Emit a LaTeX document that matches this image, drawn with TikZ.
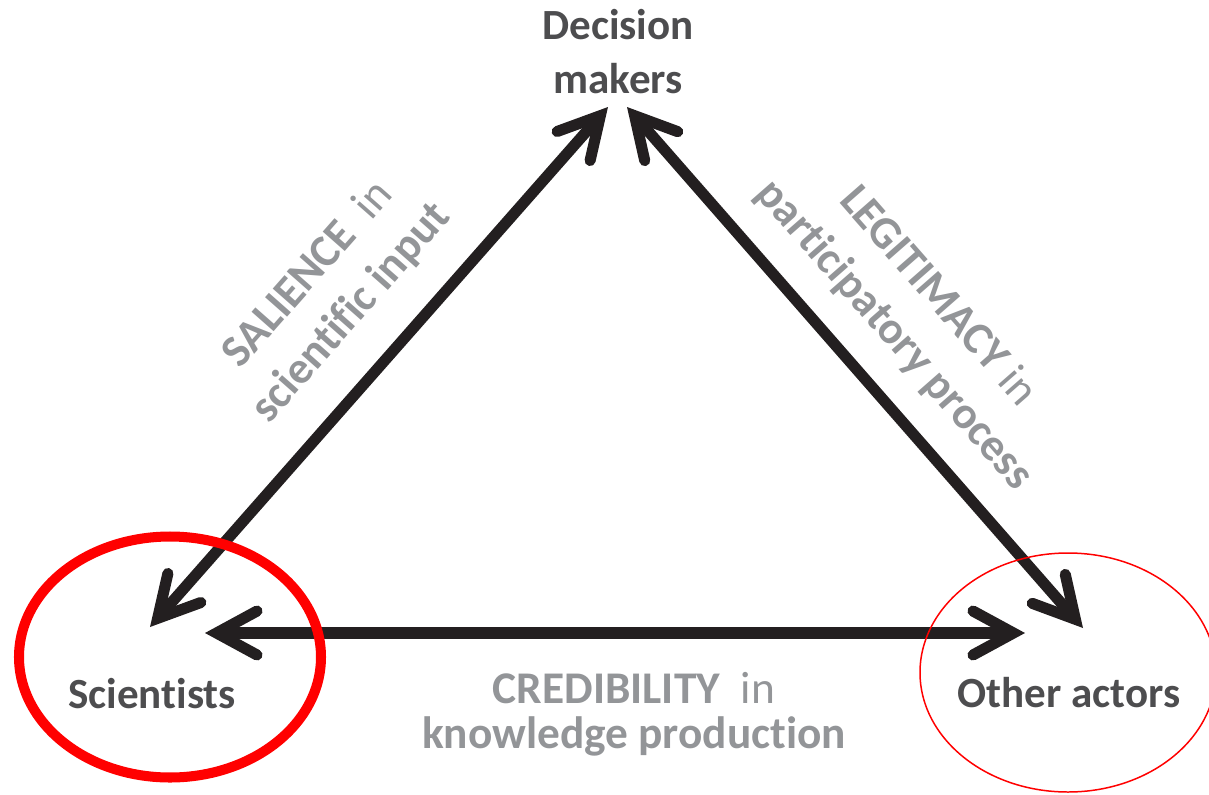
\documentclass[tikz,border=0pt]{standalone}
\usepackage{fontspec}
\setmainfont{Carlito}[Ligatures=NoCommon]
\usetikzlibrary{arrows.meta}
\definecolor{labelgray}{HTML}{4D4D4F}
\definecolor{notegray}{HTML}{939598}
\definecolor{arrowblack}{HTML}{231F20}

\begin{document}
\begin{tikzpicture}[
        actor/.style={font=\fontsize{24.5}{30.2}\selectfont\bfseries, text=labelgray, align=center, inner sep=0pt},
        note/.style={font=\fontsize{25.8}{33}\selectfont, text=notegray, align=center, inner sep=0pt},
        link/.style={<->, line width=6.3pt, draw=arrowblack,
            >={Straight Barb[length=23pt, width=25pt, line cap=round, line join=miter]}},
        mark ring/.style={draw=red}
    ]
        \useasboundingbox (0,0) rectangle (24.18,-15.9);
        \clip (0,0) rectangle (24.18,-15.9);

        % the three actors (base = last line)
        \node[actor, anchor=base] (dm)  at (12.36,-1.86) {Decision\\makers};
        \node[actor, anchor=base] (sci) at ( 3.04,-14.16) {Scientists};
        \node[actor, anchor=base] (oth) at (21.38,-14.14) {Other actors};

        % arrow ends
        \coordinate (dmL)  at (12.16,-2.14);
        \coordinate (dmR)  at (12.54,-2.14);
        \coordinate (sciT) at ( 3.00,-12.54);
        \coordinate (sciR) at ( 4.10,-12.66);
        \coordinate (othT) at (21.66,-12.56);
        \coordinate (othL) at (20.50,-12.66);

        \draw[link] (sciT) -- (dmL);
        \draw[link] (dmR) -- (othT);
        \draw[link] (sciR) -- (othL);

        % labels on the arrows
        \node[note, rotate=48.6] (sal) at ( 6.60,-5.88) {\textbf{SALIENCE}~~in\\\textbf{scientific input}};
        \node[note, rotate=-48.8] (leg) at (18.32,-6.32) {\textbf{LEGITIMACY} in\\\textbf{participatory process}};
        \node[note, anchor=base, font=\fontsize{25.8}{25.6}\selectfont] (cred) at (12.68,-14.96)
            {\textbf{CREDIBILITY}~~in\\\textbf{knowledge production}};

        % highlight rings
        \draw[mark ring, line width=5.7pt] (3.40,-13.14) ellipse (3.02 and 2.41);
        \draw[mark ring, line width=0.85pt] (21.36,-13.45) ellipse (2.96 and 2.39);
    \end{tikzpicture}
\end{document}
